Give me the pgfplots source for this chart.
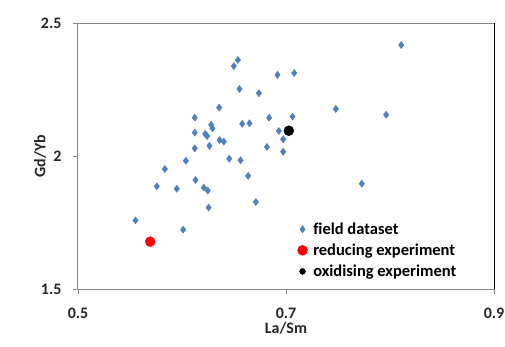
\documentclass[border=0pt]{standalone}
\usepackage{pgfplots}
\pgfplotsset{compat=1.18}
\usepackage{fontspec}
\setmainfont{Carlito}[Ligatures=NoCommon]
\definecolor{fieldblue}{HTML}{4F81BD}
\definecolor{axgray}{HTML}{868686}
\begin{document}
\begin{tikzpicture}[x=1pt,y=1pt]
\path[use as bounding box] (-78,-57) rectangle (427,289);
\begin{axis}[
  at={(0,0)}, anchor=south west,
  scale only axis, width=416pt, height=266pt,
  xmin=0.5, xmax=0.9, ymin=1.5, ymax=2.5,
  xtick={0.5,0.7,0.9}, ytick={1.5,2,2.5},
  xticklabels={0.5,0.7,0.9}, yticklabels={1.5,2,2.5},
  tick align=outside, tick pos=left,
  major tick length=5pt,
  tick style={axgray, line width=0.8pt},
  axis line style={axgray, line width=1pt},
  ticklabel style={font=\fontsize{16}{18}\selectfont\bfseries, text=black!85},
  xticklabel style={yshift=-10pt},
  yticklabel style={xshift=-8pt},
  xlabel={La/Sm}, ylabel={Gd/Yb},
  label style={font=\fontsize{16}{18}\selectfont\bfseries, text=black!85},
  xlabel style={yshift=3pt},
  ylabel style={yshift=-12pt},
  legend style={draw=none, fill=none, at={(0.52,0.265)}, anchor=north west,
    font=\fontsize{16.5}{18}\selectfont\bfseries, row sep=4pt,
    legend cell align=left},
  legend image code/.code={\draw[#1] plot coordinates {(0.15cm,0cm)};\path (0cm,0cm) (0.45cm,0cm);},
  clip=false,
]
\addplot[only marks, mark=diamond*, mark size=3.6pt, color=fieldblue,
  mark options={fill=fieldblue, draw=fieldblue}] coordinates {
(0.6537,2.361) (0.6498,2.338) (0.6918,2.305) (0.6553,2.252) (0.6739,2.236)
(0.6357,2.182) (0.6123,2.144) (0.6838,2.144) (0.6579,2.121) (0.6649,2.123)
(0.6281,2.117) (0.6293,2.104) (0.6123,2.088) (0.6223,2.083) (0.6242,2.075)
(0.6931,2.094) (0.6973,2.063) (0.6361,2.060) (0.6402,2.054) (0.6123,2.029)
(0.6264,2.038) (0.6816,2.034) (0.6973,2.016) (0.8108,2.417) (0.7079,2.312)
(0.7479,2.177) (0.7963,2.155) (0.7063,2.148) (0.7729,1.896) (0.6454,1.990)
(0.6563,1.984) (0.6037,1.982) (0.5835,1.951) (0.6636,1.925) (0.6130,1.910)
(0.5758,1.886) (0.5950,1.877) (0.6210,1.881) (0.6248,1.870) (0.6710,1.827)
(0.6256,1.806) (0.5553,1.758) (0.6011,1.723)
};
\addlegendentry{field dataset}
\addplot[only marks, mark=*, mark size=5pt, color=red, mark options={fill=red, draw=red}]
  coordinates {(0.5694,1.678)};
\addlegendentry{reducing experiment}
\addplot[only marks, mark=*, mark size=5pt, color=black, mark options={fill=black},
  legend image post style={mark size=3pt}]
  coordinates {(0.7027,2.095)};
\addlegendentry{oxidising experiment}
\draw[axgray, line width=1pt] (rel axis cs:0,1) -- (rel axis cs:1,1);
\draw[black, line width=0.8pt] (rel axis cs:1,0) -- (rel axis cs:1,1);
\end{axis}
\end{tikzpicture}
\end{document}
